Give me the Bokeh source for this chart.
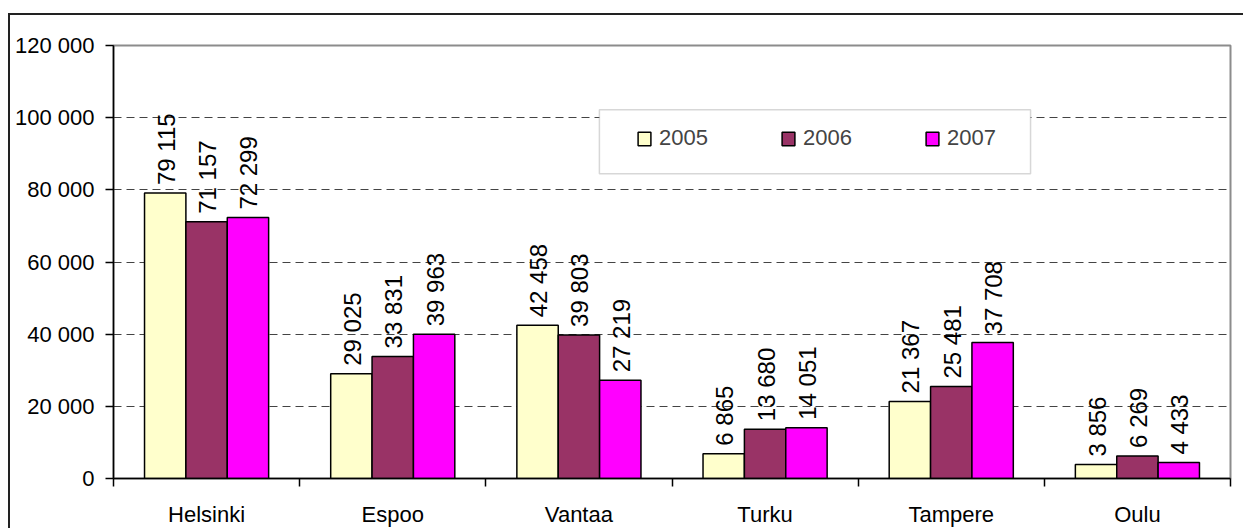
import numpy as np
from bokeh.plotting import figure
from bokeh.models import (ColumnDataSource, FixedTicker, Legend, LegendItem,
                          BoxAnnotation, Range1d)
from bokeh.core.properties import value
from bokeh.embed import file_html
from bokeh.resources import INLINE

# ---- data ----
cities = ["Helsinki", "Espoo", "Vantaa", "Turku", "Tampere", "Oulu"]
years = ["2005", "2006", "2007"]
v2005 = [79115, 29025, 42458, 6865, 21367, 3856]
v2006 = [71157, 33831, 39803, 13680, 25481, 6269]
v2007 = [72299, 39963, 27219, 14051, 37708, 4433]
series = [v2005, v2006, v2007]
colors = ["#FFFFCC", "#993366", "#FF00FF"]
y_ticks = [0, 20000, 40000, 60000, 80000, 100000, 120000]

FONT = "Liberation Sans"


def fmt(n):
    return f"{n:,}".replace(",", " ")


W, H = 1235, 515
p = figure(width=W, height=H, output_backend="svg", toolbar_location=None,
           x_range=Range1d(0, len(cities)), y_range=Range1d(0, y_ticks[-1]),
           min_border_left=103, min_border_right=15, min_border_top=30,
           min_border_bottom=52)
p.styles = {"margin-left": "10px", "margin-top": "15px",
            "box-shadow": "-2px -2px 0px 0px #222222"}
p.background_fill_color = "white"
p.border_fill_color = "white"
p.outline_line_color = "#8c8c8c"
p.outline_line_width = 2

# axes
centers = [i + 0.5 for i in range(len(cities))]
p.xaxis.ticker = FixedTicker(ticks=centers, minor_ticks=list(range(len(cities) + 1)))
p.xaxis.major_label_overrides = {c: name for c, name in zip(centers, cities)}
p.xaxis.major_tick_out = 0
p.xaxis.major_tick_in = 0
p.xaxis.minor_tick_out = 8
p.xaxis.minor_tick_in = 0
p.xaxis.major_label_standoff = 15

p.yaxis.ticker = FixedTicker(ticks=y_ticks, minor_ticks=[])
p.yaxis.major_label_overrides = {t: fmt(t) for t in y_ticks}
p.yaxis.major_tick_out = 8
p.yaxis.major_tick_in = 0
p.yaxis.major_label_standoff = 11

for ax in (p.xaxis, p.yaxis):
    ax.axis_line_color = "black"
    ax.axis_line_width = 1.5
    ax.major_tick_line_color = "black"
    ax.minor_tick_line_color = "black"
    ax.major_tick_line_width = 1.5
    ax.minor_tick_line_width = 1.5
    ax.major_label_text_font = FONT
    ax.major_label_text_font_size = "22px"
    ax.major_label_text_color = "black"

p.xgrid.visible = False
p.ygrid.ticker = FixedTicker(ticks=y_ticks[1:-1])
p.ygrid.grid_line_color = "#444444"
p.ygrid.grid_line_dash = "8 5"
p.ygrid.grid_line_width = 1

# bars
bw = 1 / 4.5
renderers = []
for j, (yr, vals, col) in enumerate(zip(years, series, colors)):
    xs = [c + (j - 1) * bw for c in centers]
    src = ColumnDataSource(dict(x=xs, top=vals, lab=[fmt(v) for v in vals]))
    r = p.vbar(x="x", top="top", width=bw, source=src, fill_color=col,
               line_color="black", line_width=1.5)
    renderers.append(r)
    p.text(x="x", y="top", text="lab", source=src, angle=np.pi / 2,
           text_align="left", text_baseline="middle", y_offset=-8, x_offset=1,
           text_font=value(FONT), text_font_size="24px", text_color="black")

# legend frame
box = BoxAnnotation(left=2.61, right=4.926, bottom=84470, top=102166,
                    fill_color="white", fill_alpha=1.0,
                    line_color="#7a7a7a", line_width=1.5)
p.add_layout(box)

legend = Legend(items=[LegendItem(label=yr, renderers=[r]) for yr, r in zip(years, renderers)],
                orientation="horizontal", location=(523, 327),
                glyph_width=16, glyph_height=17, label_standoff=7,
                label_width=50, spacing=71, padding=0, margin=0,
                border_line_color=None, background_fill_alpha=0,
                label_text_font=FONT, label_text_font_size="22px")
p.add_layout(legend)

open("out.html", "w").write(file_html(p, INLINE))
